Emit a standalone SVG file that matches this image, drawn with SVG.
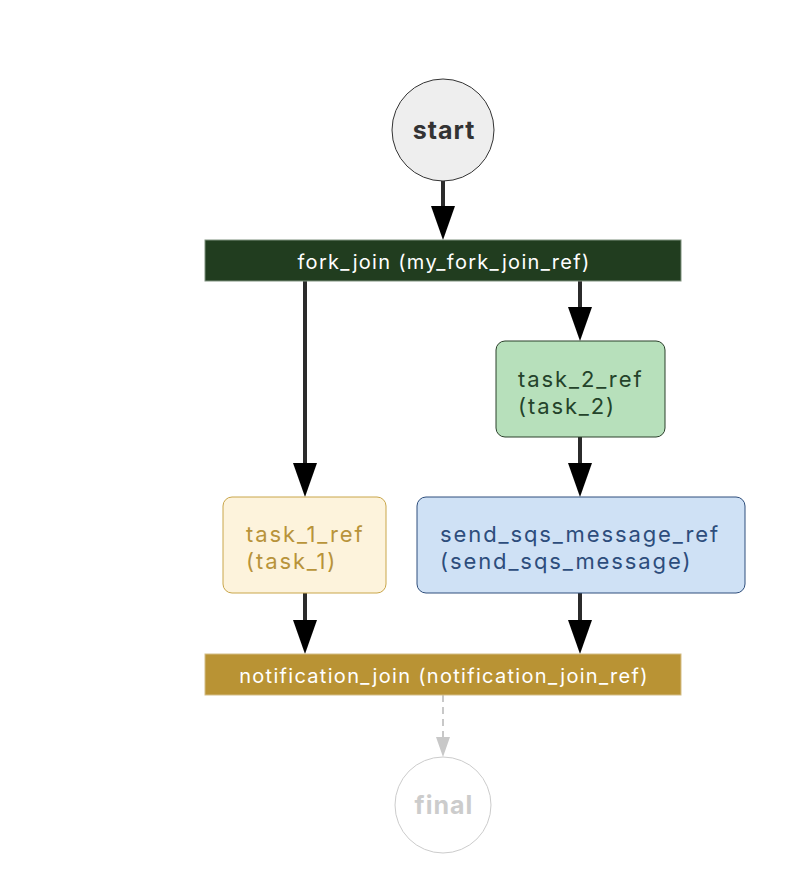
<svg xmlns="http://www.w3.org/2000/svg" width="812" height="876" viewBox="0 0 812 876">
  <defs>
    <marker id="arrow" viewBox="0 0 34 24" refX="26" refY="12" markerWidth="34" markerHeight="24" markerUnits="userSpaceOnUse" orient="auto">
      <path d="M0,0 L34,12 L0,24 z" fill="#000"/>
    </marker>
    <marker id="arrow-grey" viewBox="0 0 20 14" refX="16" refY="7" markerWidth="20" markerHeight="14" markerUnits="userSpaceOnUse" orient="auto">
      <path d="M0,0 L20,7 L0,14 z" fill="#c8c8c8"/>
    </marker>
    <style>
      text { font-family: "Inter", "Liberation Sans", Arial, sans-serif; }
      .edge { stroke: #2b2b2b; stroke-width: 4; fill: none; }
      .edge-dim { stroke: #c8c8c8; stroke-width: 2; fill: none; stroke-dasharray: 7 5; }
      .bar-label { fill: #ffffff; font-size: 20px; letter-spacing: 1.3px; text-anchor: middle; }
      .task-label { font-size: 22px; letter-spacing: 1.9px; }
      .terminal-label { font-size: 25px; font-weight: bold; letter-spacing: 1px; text-anchor: middle; }
    </style>
  </defs>

  <rect width="812" height="876" fill="#ffffff"/>

  <g id="connectors">
    <line class="edge" x1="443" y1="181" x2="443" y2="232" marker-end="url(#arrow)"/>
    <line class="edge" x1="305" y1="281" x2="305" y2="489" marker-end="url(#arrow)"/>
    <line class="edge" x1="580" y1="281" x2="580" y2="333" marker-end="url(#arrow)"/>
    <line class="edge" x1="580" y1="437" x2="580" y2="489" marker-end="url(#arrow)"/>
    <line class="edge" x1="305" y1="593" x2="305" y2="646" marker-end="url(#arrow)"/>
    <line class="edge" x1="580" y1="593" x2="580" y2="646" marker-end="url(#arrow)"/>
    <line class="edge-dim" x1="443" y1="695" x2="443" y2="753" marker-end="url(#arrow-grey)"/>
  </g>

  <g id="start">
    <circle cx="443" cy="130" r="51" fill="#eeeeee" stroke="#333333" stroke-width="1"/>
    <text class="terminal-label" x="444" y="139" fill="#333333">start</text>
  </g>

  <g id="my_fork_join_ref">
    <rect x="205" y="240" width="476" height="41" fill="#213d1f" stroke="#7f917e" stroke-width="1"/>
    <text class="bar-label" x="444" y="269">fork_join (my_fork_join_ref)</text>
  </g>

  <g id="task_2_ref">
    <rect x="496" y="341" width="169" height="96" rx="9" fill="#b7e0bb" stroke="#2b402b" stroke-width="1"/>
    <text class="task-label" fill="#24432a" x="518" y="387">task_2_ref</text>
    <text class="task-label" fill="#24432a" x="518" y="414">(task_2)</text>
  </g>

  <g id="task_1_ref">
    <rect x="223" y="497" width="163" height="96" rx="9" fill="#fdf3dc" stroke="#c9a64a" stroke-width="1"/>
    <text class="task-label" fill="#b8933a" x="246" y="542">task_1_ref</text>
    <text class="task-label" fill="#b8933a" x="246" y="569">(task_1)</text>
  </g>

  <g id="send_sqs_message_ref">
    <rect x="417" y="497" width="328" height="96" rx="9" fill="#cfe1f5" stroke="#2e4e7c" stroke-width="1"/>
    <text class="task-label" fill="#2d4d7c" x="440" y="542">send_sqs_message_ref</text>
    <text class="task-label" fill="#2d4d7c" x="440" y="569">(send_sqs_message)</text>
  </g>

  <g id="notification_join_ref">
    <rect x="205" y="654" width="476" height="41" fill="#b99334" stroke="#d4bd86" stroke-width="1"/>
    <text class="bar-label" x="444" y="683">notification_join (notification_join_ref)</text>
  </g>

  <g id="final">
    <circle cx="443" cy="805" r="48" fill="#ffffff" stroke="#cccccc" stroke-width="1"/>
    <text class="terminal-label" x="444" y="814" fill="#cccccc">final</text>
  </g>
</svg>
